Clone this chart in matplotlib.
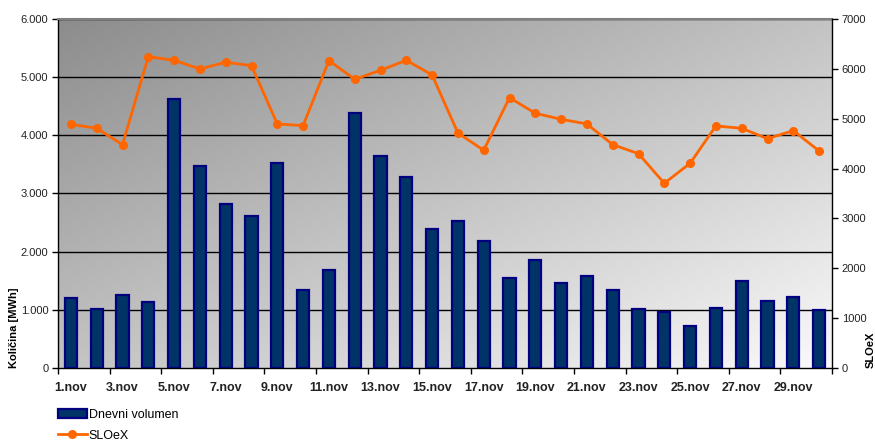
import matplotlib
matplotlib.use("Agg")
import matplotlib.pyplot as plt
import numpy as np
from matplotlib.patches import Patch
from matplotlib.lines import Line2D

plt.rcParams['font.family'] = ['Liberation Sans', 'DejaVu Sans']

days = [f"{i}.nov" for i in range(1, 31)]
volumen = [1210, 1020, 1255, 1135, 4625, 3470, 2815, 2620, 3530, 1335,
           1680, 4390, 3645, 3290, 2385, 2530, 2180, 1540, 1860, 1465,
           1585, 1335, 1010, 955, 727, 1025, 1490, 1157, 1225, 1003]
sloex = [4888, 4808, 4480, 6245, 6172, 5998, 6132, 6064, 4895, 4861,
         6165, 5791, 5972, 6172, 5878, 4714, 4367, 5422, 5109, 4989,
         4895, 4480, 4299, 3705, 4106, 4855, 4808, 4600, 4761, 4353]
left_ticks = [0, 1000, 2000, 3000, 4000, 5000, 6000]
left_labels = ["0", "1.000", "2.000", "3.000", "4.000", "5.000", "6.000"]
right_ticks = [0, 1000, 2000, 3000, 4000, 5000, 6000, 7000]

W, H = 875, 443
fig = plt.figure(figsize=(W / 100, H / 100), dpi=100)
ax = fig.add_axes([58 / W, 1 - 368 / H, (832 - 58) / W, (368 - 19) / H])

# gradient background
n = 200
u = np.linspace(0, 1, n)
d = np.linspace(0, 1, n)
U, D = np.meshgrid(u, d)
t = (U + D) / 2
c = 0.55 + 0.43 * t
img = np.dstack([c, c, c])
ax.imshow(img, extent=[0, 1, 0, 1], transform=ax.transAxes, aspect='auto',
          origin='upper', zorder=0)

x = np.arange(len(days))
ax.bar(x, volumen, width=0.48, color='#003366', edgecolor='#000080',
       linewidth=1.6, zorder=3)
ax.set_xlim(-0.5, len(days) - 0.5)
ax.set_ylim(0, 6000)
ax.set_yticks(left_ticks)
ax.set_yticklabels(left_labels, fontsize=8, color='#222222')
for v in left_ticks[1:]:
    ax.axhline(v, color='black', lw=1.0, zorder=2)

ax.set_xticks(x[::2])
ax.set_xticklabels(days[::2], fontsize=9, fontweight='bold', color='#222222')
ax.set_xticks(np.arange(-0.5, len(days), 2), minor=True)
ax.tick_params(axis='x', which='major', length=0, pad=10)
ax.tick_params(axis='x', which='minor', length=4, direction='out', width=1)
ax.tick_params(axis='y', length=4, direction='out', width=1, pad=3)
ax.spines['top'].set_color('#808080')
ax.spines['top'].set_linewidth(1.5)
ax.spines['right'].set_visible(False)
ax.spines['left'].set_linewidth(1)
ax.spines['bottom'].set_linewidth(1)

ax2 = ax.twinx()
ax2.plot(x, sloex, color='#FF6600', lw=2, marker='o', markersize=5.5, zorder=5)
ax2.set_ylim(0, 7000)
ax2.set_yticks(right_ticks)
ax2.set_yticklabels([str(v) for v in right_ticks], fontsize=8, color='#222222')
ax2.tick_params(axis='y', length=4, direction='out', width=1, pad=3)
for s in ['top', 'left', 'bottom']:
    ax2.spines[s].set_visible(False)
ax2.spines['right'].set_linewidth(1)
ax2.spines['right'].set_color('black')

fig.text(14 / W, 1 - 368 / H, "Količina [MWh]", rotation=90, fontsize=8,
         fontweight='bold', ha='center', va='bottom')
fig.text(871 / W, 1 - 368 / H, "SLOeX", rotation=90, fontsize=8,
         fontweight='bold', ha='center', va='bottom')

handles = [Patch(facecolor='#003366', edgecolor='#000080', linewidth=1.6),
           Line2D([0], [0], color='#FF6600', lw=2, marker='o', markersize=5.5)]
fig.legend(handles, ["Dnevni volumen", "SLOeX"], loc='upper left',
           bbox_to_anchor=(58 / W, 1 - 409 / H), frameon=False, fontsize=9,
           handlelength=2.3, handletextpad=0.15, labelspacing=0.7,
           borderaxespad=0, borderpad=0)

fig.savefig("out.png", dpi=100)
